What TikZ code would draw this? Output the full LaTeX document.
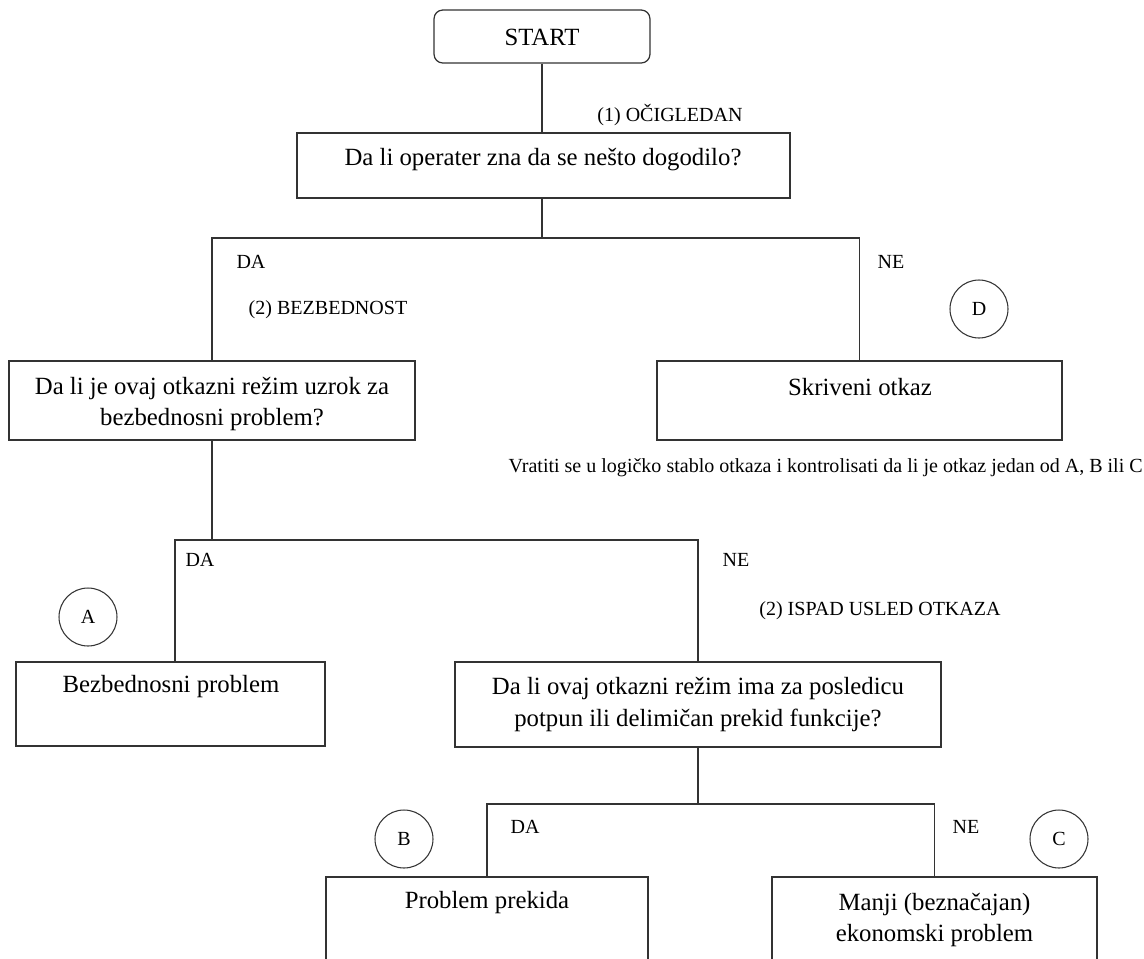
\documentclass[tikz,border=0pt]{standalone}
\usepackage{fontspec}
\setmainfont{Liberation Serif}
\usepackage{tikz}

\begin{document}
\begin{tikzpicture}[x=0.02cm,y=-0.02cm,
    box/.style={draw=black!80,line width=0.7pt,inner sep=0pt},
    txt/.style={font=\fontsize{14.1}{18}\selectfont,align=center,inner sep=0pt},
    lab/.style={font=\fontsize{11.4}{13}\selectfont,inner sep=0pt},
    tag/.style={circle,draw=black!80,line width=0.6pt,minimum size=1.16cm,inner sep=0pt,font=\fontsize{11.4}{13}\selectfont},
    con/.style={draw=black!80,line width=0.7pt}]
       \useasboundingbox (0,0) rectangle (1144,958);
       \clip (0,0) rectangle (1144,958);

       %kutije
       \node[box,rounded corners=5pt,minimum width=4.32cm,minimum height=1.06cm] (start) at (542,36.5) {};
       \node[box,minimum width=9.86cm,minimum height=1.30cm] (q1) at (543.5,165.5) {};
       \node[box,minimum width=8.12cm,minimum height=1.58cm] (q2) at (212,400.5) {};
       \node[box,minimum width=8.10cm,minimum height=1.58cm] (hid) at (859.5,400.5) {};
       \node[box,minimum width=6.18cm,minimum height=1.68cm] (bez) at (170.5,704) {};
       \node[box,minimum width=9.72cm,minimum height=1.70cm] (q3) at (698,704.5) {};
       \node[box,minimum width=6.44cm,minimum height=2.46cm] (prob) at (487,938.5) {};
       \node[box,minimum width=6.50cm,minimum height=2.46cm] (manji) at (934.5,938.5) {};

       %tekst u kutijama
       \node[txt] (startt) at (542,37) {START};
       \node[txt] (q1t) at (543,160) {Da li operater zna da se nešto dogodilo?};
       \node[txt] (q2t) at (212,404) {Da li je ovaj otkazni režim uzrok za\\bezbednosni problem?};
       \node[txt] (hidt) at (860,387) {Skriveni otkaz};
       \node[txt] (bezt) at (171,687) {Bezbednosni problem};
       \node[txt] (q3t) at (698,704.5) {Da li ovaj otkazni režim ima za posledicu\\potpun ili delimičan prekid funkcije?};
       \node[txt] (probt) at (487,903) {Problem prekida};
       \node[txt] (manjit) at (934.5,920) {Manji (beznačajan)\\ekonomski problem};

       %grananja
       \coordinate (s1) at (542,238);
       \coordinate (s2) at (212,540);
       \coordinate (s3) at (698,804);
       \draw[con] (start) -- (start |- q1.north);
       \draw[con] (start |- q1.south) -- (s1);
       \draw[con] (q2.north) |- (s1) -| (hid.north);
       \draw[con] (q2.south) -- (s2);
       \draw[con] (bez.north -| 175,0) |- (s2) -| (q3.north);
       \draw[con] (q3.south) -- (s3);
       \draw[con] (prob.north) |- (s3) -| (manji.north);

       %oznake
       \node[lab] (l1) at (670,115) {(1) OČIGLEDAN};
       \node[lab] (da1) at (251,262) {DA};
       \node[lab] (ne1) at (891,262) {NE};
       \node[lab] (l2) at (328,310) {(2) BEZBEDNOST};
       \node[lab,anchor=east] (back) at (1143,468) {Vratiti se u logičko stablo otkaza i kontrolisati da li je otkaz jedan od A, B ili C};
       \node[lab] (da2) at (200,560) {DA};
       \node[lab] (ne2) at (736,560) {NE};
       \node[lab] (l3) at (880,611) {(2) ISPAD USLED OTKAZA};
       \node[lab] (da3) at (525,827) {DA};
       \node[lab] (ne3) at (966,827) {NE};

       %krugovi
       \node[tag] (d) at (979,309) {D};
       \node[tag] (a) at (88,617) {A};
       \node[tag] (b) at (404,839) {B};
       \node[tag] (c) at (1059,839) {C};
\end{tikzpicture}
\end{document}
